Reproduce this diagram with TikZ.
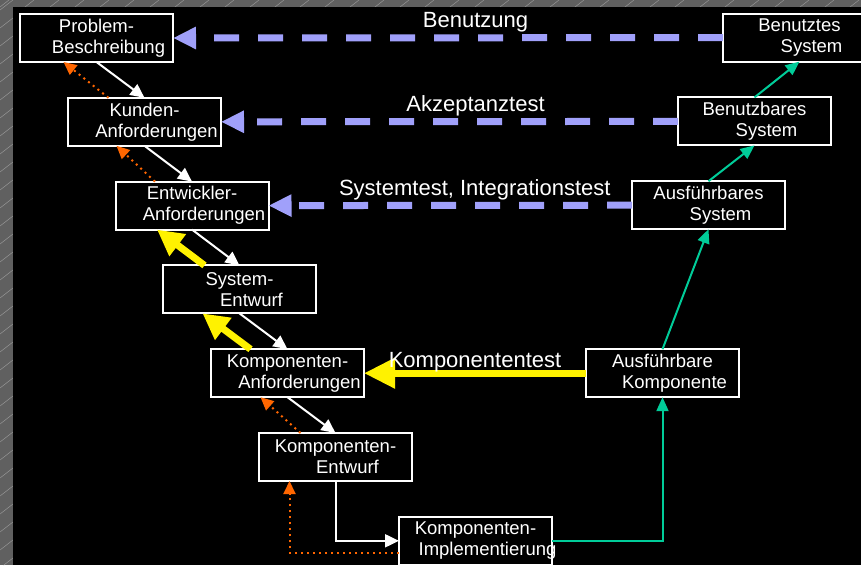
\documentclass[tikz,border=0pt]{standalone}
\usepackage{fontspec}
\setmainfont{Liberation Sans}
\usepackage{tikz}
\usetikzlibrary{arrows.meta, positioning}

\definecolor{framegray}{RGB}{96,96,96}
\definecolor{framelines}{RGB}{150,150,150}
\definecolor{testblue}{RGB}{160,160,250}
\definecolor{fixorange}{RGB}{255,102,0}
\definecolor{buildgreen}{RGB}{0,204,153}
\newcommand{\shiftline}[1]{\makebox[0pt]{\hspace*{24pt}#1}}

\begin{document}
\begin{tikzpicture}[
    x=1pt, y=-1pt,
    node distance=35.8pt,
    phase/.style={rectangle, draw=white, line width=2pt, fill=black, text=white, minimum width=153pt, minimum height=48pt, inner sep=0pt, outer sep=0pt, align=center, font=\fontsize{18.5}{21}\selectfont},
    lbl/.style={text=white, font=\fontsize{22}{26}\selectfont, anchor=base, inner sep=0pt},
    down/.style={-{Triangle[length=14pt, width=13pt]}, draw=white, line width=2pt},
    back/.style={-{Triangle[length=13pt, width=12pt]}, draw=fixorange, line width=2pt, dash pattern=on 2pt off 4pt},
    fix/.style={-{Triangle[length=26pt, width=26pt]}, draw=yellow, line width=7pt},
    fixbig/.style={-{Triangle[length=31pt, width=29pt]}, draw=yellow, line width=7pt},
    test/.style={-{Triangle[length=23pt, width=21pt]}, draw=testblue, line width=7pt, dash pattern=on 25pt off 19pt},
    build/.style={-{Triangle[length=14pt, width=12pt]}, draw=buildgreen, line width=2pt}
  ]
    \useasboundingbox (0,0) rectangle (861,565);
    % frame
    \fill[framegray] (0,0) rectangle (861,565);
    \begin{scope}
      \clip (0,0) rectangle (13,565) (0,0) rectangle (861,7);
      \foreach \k in {0,...,32} \draw[framelines, line width=0.5pt] (0,\k*18+10) -- (13,\k*18);
      \foreach \k in {0,...,35} \draw[framelines, line width=0.5pt] (\k*25,7) -- (\k*25+9,0);
    \end{scope}
    \fill[black] (13,7) rectangle (861,565);

    % left branch
    \node[phase] (prob) at (96.5,38) {Problem-\\\shiftline{Beschreibung}};
    \node[phase, below=of prob, xshift=48pt] (kund) {Kunden-\\\shiftline{Anforderungen}};
    \node[phase, below=of kund, xshift=47.5pt] (entw) {Entwickler-\\\shiftline{Anforderungen}};
    \node[phase, below=of entw, xshift=47.5pt] (sys) {System-\\\shiftline{Entwurf}};
    \node[phase, below=of sys, xshift=48pt] (kompanf) {Komponenten-\\\shiftline{Anforderungen}};
    \node[phase, below=of kompanf, xshift=48pt] (kompent) {Komponenten-\\\shiftline{Entwurf}};
    \node[phase, below=of kompent, xshift=140pt] (kompimpl) {Komponenten-\\\shiftline{Implementierung}};
    % right branch
    \node[phase, right=222pt of kompanf] (ausfk) {Ausführbare\\\shiftline{Komponente}};
    \node[phase, above=120pt of ausfk, xshift=46pt] (ausfs) {Ausführbares\\\shiftline{System}};
    \node[phase, above=of ausfs, xshift=46pt] (benb) {Benutzbares\\\shiftline{System}};
    \node[phase, above=of benb, xshift=45pt] (bent) {Benutztes\\\shiftline{System}};

    % tests
    \draw[test] (bent.west) -- node[lbl, pos=0.45, yshift=10pt] {Benutzung} (prob.east);
    \draw[test] (benb.west) -- node[lbl, pos=0.443, yshift=10pt] {Akzeptanztest} (kund.east);
    \draw[test] (ausfs.west) -- node[lbl, pos=0.4325, yshift=10pt] {Systemtest, Integrationstest} (entw.east);

    \draw[down] (prob.south) -- (kund.north);
    \draw[down] (kund.south) -- (entw.north);
    \draw[down] (entw.south) -- (sys.north);
    \draw[down] (sys.south) -- (kompanf.north);
    \draw[down] (kompanf.south) -- (kompent.north);
    \draw[down] (kompent.south) |- (kompimpl.west);

    \draw[back] ([xshift=-36pt]kund.north) -- ([xshift=-33pt]prob.south);
    \draw[back] ([xshift=-37pt]entw.north) -- ([xshift=-28pt]kund.south);
    \draw[back] ([xshift=-35pt]kompent.north) -- ([xshift=-27pt]kompanf.south);
    \draw[back] ([yshift=-12pt]kompimpl.west) -| ([xshift=-46pt]kompent.south);

    \draw[fix] ([xshift=-35pt]sys.north) -- ([xshift=-35pt]entw.south);
    \draw[fix] ([xshift=-37pt]kompanf.north) -- ([xshift=-37pt]sys.south);
    \draw[fixbig] (ausfk.west) -- node[lbl, midway, yshift=6pt] {Komponententest} (kompanf.east);

    \draw[build] (kompimpl.east) -| (ausfk.south);
    \draw[build] (ausfk.north) -- (ausfs.south);
    \draw[build] (ausfs.north) -- (benb.south);
    \draw[build] (benb.north) -- (bent.south);
  \end{tikzpicture}
\end{document}
